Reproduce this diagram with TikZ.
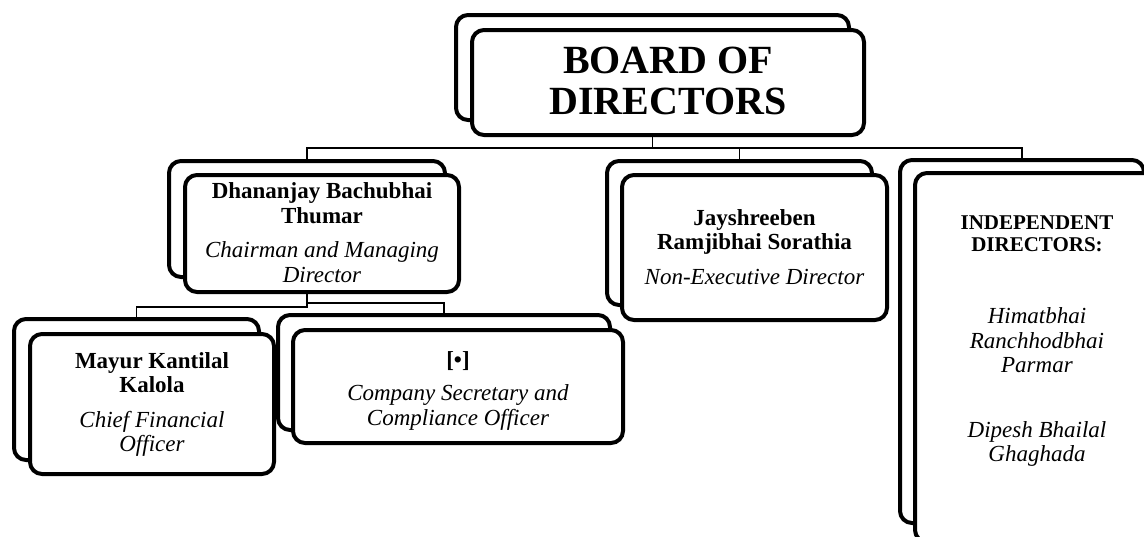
\documentclass[tikz,border=0pt]{standalone}
\usepackage{fontspec}
\setmainfont{Liberation Serif}
\usetikzlibrary{backgrounds}
\begin{document}
\begin{tikzpicture}[x=1pt,y=-1pt,
  card/.style={draw=black, line width=4pt, rounded corners=12pt, fill=white, inner sep=0pt},
  wire/.style={draw=black, line width=1.1pt},
  txt/.style={font=\fontsize{23}{24.5}\selectfont, align=center, inner sep=0pt},
  bigtxt/.style={font=\fontsize{40}{41}\selectfont\bfseries, align=center, inner sep=0pt},
  headtxt/.style={font=\fontsize{21}{22}\selectfont\bfseries, align=center, inner sep=0pt}
]
\useasboundingbox (0,0) rectangle (1144,536);
\clip (0,0) rectangle (1144,536);

% Board of directors
\node[card, minimum width=393pt, minimum height=105pt] (boardB) at (652.5,67.5) {};
\node[card, minimum width=392pt, minimum height=105pt] (board) at (668,82.5) {};
\node[bigtxt] (boardT) at (668,81) {BOARD OF\\DIRECTORS};

% Dhananjay
\node[card, minimum width=276pt, minimum height=116pt] (dirB) at (307,219) {};
\node[card, minimum width=274pt, minimum height=117pt] (dir) at (322,233.5) {};
\node[txt] (dirT) at (322,232.5) {\textbf{Dhananjay Bachubhai}\\\textbf{Thumar}\\[10pt]\textit{Chairman and Managing}\\\textit{Director}};

% Jayshreeben
\node[card, minimum width=265pt, minimum height=144pt] (jayB) at (739.5,233) {};
\node[card, minimum width=265pt, minimum height=145pt] (jay) at (754.5,247.5) {};
\node[txt] (jayT) at (754.5,247) {\textbf{Jayshreeben}\\\textbf{Ramjibhai Sorathia}\\[10pt]\textit{Non-Executive Director}};

% Independent directors
\node[card, minimum width=244pt, minimum height=363pt] (indB) at (1022,341.5) {};
\node[card, minimum width=244pt, minimum height=369pt] (ind) at (1037,357.5) {};
\node[headtxt] (indH) at (1037,234) {INDEPENDENT\\DIRECTORS:};
\node[txt] (indN1) at (1037,340.5) {\textit{Himatbhai}\\\textit{Ranchhodbhai}\\\textit{Parmar}};
\node[txt] (indN2) at (1037,444) {\textit{Dipesh Bhailal}\\\textit{Ghaghada}};

% Mayur
\node[card, minimum width=245pt, minimum height=141pt] (cfoB) at (136.5,389.5) {};
\node[card, minimum width=244pt, minimum height=140pt] (cfo) at (152,404) {};
\node[txt] (cfoT) at (152,404.5) {\textbf{Mayur Kantilal}\\\textbf{Kalola}\\[10pt]\textit{Chief Financial}\\\textit{Officer}};

% Company secretary
\node[card, minimum width=332pt, minimum height=115pt] (csB) at (444,372.5) {};
\node[card, minimum width=330pt, minimum height=113pt] (cs) at (458,386.5) {};
\node[txt] (csT) at (458,390.5) {\textbf{[•]}\\[9pt]\textit{Company Secretary and}\\\textit{Compliance Officer}};

\coordinate (bus) at (0,148);
\coordinate (busL) at (0,307);
\coordinate (busR) at (0,303);

\begin{pgfonlayer}{background}
\draw[wire] (boardB.south) -- (boardB.south |- bus);
\draw[wire] (dirB.north) |- (indB.north |- bus) -- (indB.north);
\draw[wire] (jayB.north) -- (jayB.north |- bus);
\draw[wire] (dirB.south) -- (dirB.south |- busL) -| (cfoB.north);
\draw[wire] (dirB.south |- busR) -| (csB.north);
\end{pgfonlayer}
\end{tikzpicture}
\end{document}
